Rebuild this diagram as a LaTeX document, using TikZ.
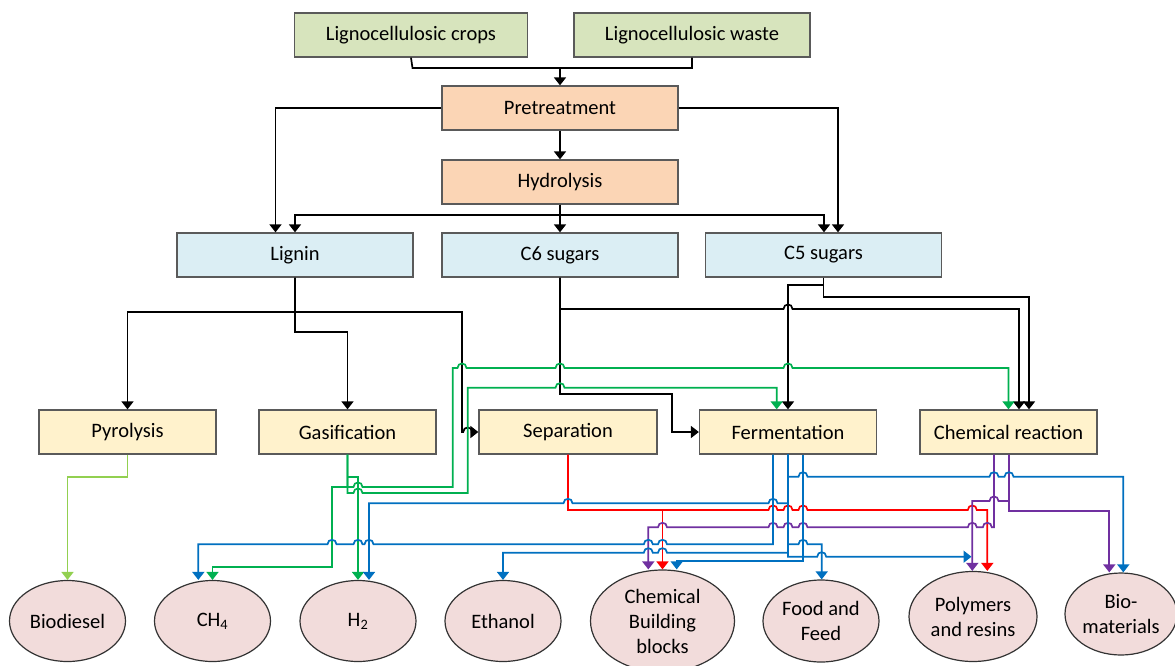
\documentclass[tikz,border=0pt]{standalone}
\usepackage{fontspec}
\setmainfont{Carlito}
\usetikzlibrary{arrows.meta,shapes.geometric}
\definecolor{cgreen}{HTML}{D7E4BD}
\definecolor{corange}{HTML}{FBD5B5}
\definecolor{cblue}{HTML}{DBEEF4}
\definecolor{cyellow}{HTML}{FFF2CC}
\definecolor{cpink}{HTML}{F2DCDB}
\definecolor{bord}{HTML}{5A5A5A}
\definecolor{lgreen}{HTML}{92D050}
\definecolor{dgreen}{HTML}{00B050}
\definecolor{lblue}{HTML}{0070C0}
\definecolor{lred}{HTML}{FF0000}
\definecolor{lpurple}{HTML}{7030A0}
\newcommand\hopR[2]{-- ({#1-4.5},#2) .. controls ({#1-4.5},{#2-6}) and ({#1+4.5},{#2-6}) .. ({#1+4.5},#2)}
\newcommand\hopL[2]{-- ({#1+4.5},#2) .. controls ({#1+4.5},{#2-6}) and ({#1-4.5},{#2-6}) .. ({#1-4.5},#2)}
\tikzset{
  box/.style={draw=bord, line width=1.3pt, minimum height=44pt, inner sep=0pt,
    font=\fontsize{20.5}{23}\selectfont},
  gbox/.style={box, fill=cgreen},
  obox/.style={box, fill=corange},
  bbox/.style={box, fill=cblue},
  ybox/.style={box, fill=cyellow},
  prod/.style={ellipse, draw=black!80, line width=1.2pt, fill=cpink, inner sep=0pt,
    align=center, font=\fontsize{20.5}{25}\selectfont},
  tip/.style={-{Triangle[width=12pt,length=8pt]}},
  conn/.style={line width=1.7pt, line join=miter},
  blk/.style={conn, black},
  blka/.style={blk, tip},
  grna/.style={conn, dgreen, tip},
  lgrna/.style={conn, lgreen, tip},
  reda/.style={conn, lred, tip},
  pura/.style={conn, lpurple, tip},
  blua/.style={conn, lblue, tip},
}
\begin{document}
\begin{tikzpicture}[x=1pt,y=-1pt]
\useasboundingbox (0,0) rectangle (1175,665);
\fill[white] (0,0) rectangle (1175,665);
% nodes
\node[gbox, minimum width=233pt] (crops) at (411,35) {Lignocellulosic crops};
\node[gbox, minimum width=236pt] (waste) at (692,35) {Lignocellulosic waste};
\node[obox, minimum width=236pt] (pre) at (560,108) {Pretreatment};
\node[obox, minimum width=236pt] (hyd) at (560,182) {Hydrolysis};
\node[bbox, minimum width=236pt] (lig) at (295,255) {Lignin};
\node[bbox, minimum width=236pt] (c6) at (560,255) {C6 sugars};
\node[bbox, minimum width=236pt] (c5) at (823.5,255) {C5 sugars};
\node[ybox, minimum width=177pt] (pyr) at (127.5,432) {Pyrolysis};
\node[ybox, minimum width=177pt] (gas) at (347.5,432) {Gasification};
\node[ybox, minimum width=178pt] (sep) at (568,432) {Separation};
\node[ybox, minimum width=177pt] (fer) at (788,432) {Fermentation};
\node[ybox, minimum width=177pt] (chem) at (1008.5,432) {Chemical reaction};
\node[prod, minimum width=116pt, minimum height=81pt] (bio) at (67.5,621) {Biodiesel};
\node[prod, minimum width=116pt, minimum height=81pt] (ch4) at (212.5,621) {CH\textsubscript{4}};
\node[prod, minimum width=116pt, minimum height=81pt] (h2) at (358,621) {H\textsubscript{2}};
\node[prod, minimum width=116pt, minimum height=81pt] (eth) at (503,621) {Ethanol};
\node[prod, minimum width=144pt, minimum height=102pt] (cbb) at (662.5,621) {Chemical\\Building\\blocks};
\node[prod, minimum width=116pt, minimum height=82pt] (food) at (821,621) {Food and\\Feed};
\node[prod, minimum width=128pt, minimum height=90pt] (poly) at (973,616.5) {Polymers\\and resins};
\node[prod, minimum width=112pt, minimum height=82pt] (biom) at (1121,614) {Bio-\\materials};
\coordinate (polyin) at (971.5,556.7);

% black connectors
\draw[blk] (crops.south) -- (412.5,68) -| (waste.south);
\draw[blka] (560,68) -- (pre.north);
\draw[blka] (pre.west) -| (lig.north -| 275.5,0);
\draw[blka] (pre.east) -| (c5.north -| 838,0);
\draw[blka] (pre.south) -- (hyd.north);
\draw[blka] (hyd.south) -- (560,215) -| (lig.north);
\draw[blka] (hyd.south) -- (c6.north);
\draw[blka] (hyd.south) -- (560,215) -| (c5.north -| 824,0);
\draw[blka] (lig.south) -- (295,312) -| (pyr.north);
\draw[blka] (lig.south) -- (295,332) -| (gas.north);
\draw[blka] (lig.south) -- (295,312) -- (462,312) -- (462,432) \hopR{467.7}{432} -- (sep.west);
\draw[blka] (c6.south) -- (560,309) \hopR{788}{309} -| (chem.north -| 1019,0);
\draw[blka] (c6.south) -- (560,394) -| (671.7,432) -- (fer.west);
\draw[blka] (c5.south) -- (823.5,285) -| (fer.north);
\draw[blka] (c5.south) -- (823.5,297) -| (chem.north -| 1029,0);

% green connectors
\draw[lgrna] (pyr.south) -- (127.5,476.7) -| (bio.north);
\draw[grna] (gas.south) -- (347.5,476.7) -| (h2.north);
\draw[grna] (gas.south) -- (347.5,487) -| (332,566.7) -| (ch4.north);
\draw[grna] (gas.south) -- (347.5,487) \hopR{358}{487} -- (452.7,487) -- (452.7,368)
  \hopR{462}{368} \hopR{560}{368} \hopR{788}{368} -| (chem.north);
\draw[grna] (gas.south) -- (347.5,493) \hopR{358}{493} -- (467.7,493) -- (467.7,387.7)
  \hopR{560}{387.7} -| (fer.north -| 776.7,0);

% red connectors
\draw[reda] (sep.south) -- (568,510) -| (cbb.north);
\draw[reda] (sep.south) -- (568,510) \hopR{773}{510} \hopR{788}{510} \hopR{803}{510}
  \hopR{972.3}{510} -| (poly.north -| 987.3,0);

% purple connectors
\draw[pura] (chem.south -| 994,0) -- (994,527.3) \hopL{987.3}{527.3} \hopL{972.3}{527.3}
  \hopL{803}{527.3} \hopL{788}{527.3} \hopL{773}{527.3} \hopL{662.5}{527.3} -| (cbb.north -| 648.3,0);
\draw[pura] (chem.south -| 1009,0) -- (1009,501) \hopL{994}{501} -| (poly.north -| 972.3,0);
\draw[pura] (chem.south -| 1009,0) -- (1009,511) -| (biom.north -| 1109.3,0);

% blue connectors
\draw[blua] (fer.south -| 788,0) -- (788,476.7) \hopR{803}{476.7} \hopR{994}{476.7}
  \hopR{1009}{476.7} -| (biom.north -| 1123.3,0);
\draw[blua] (fer.south -| 788,0) -- (788,503.3) \hopL{773}{503.3} \hopL{568}{503.3} -| (h2.north -| 369,0);
\draw[blua] (fer.south -| 773,0) -- (773,544.3) \hopL{662.5}{544.3} \hopL{648.3}{544.3}
  \hopL{369}{544.3} \hopL{358}{544.3} \hopL{332}{544.3} -| (ch4.north -| 198.3,0);
\draw[blua] (fer.south -| 788,0) -- (788,552.7) \hopL{662.5}{552.7} \hopL{648.3}{552.7} -| (eth.north);
\draw[blua] (fer.south -| 788,0) -- (788,544.3) \hopR{803}{544.3} -| (food.north -| 821.7,0);
\draw[blua] (fer.south -| 788,0) -- (788,556.7) \hopR{821.7}{556.7} -- (polyin);
\draw[blua] (fer.south -| 803,0) -- (803,560.7) -| (cbb.north -| 676.7,0);
\end{tikzpicture}
\end{document}
